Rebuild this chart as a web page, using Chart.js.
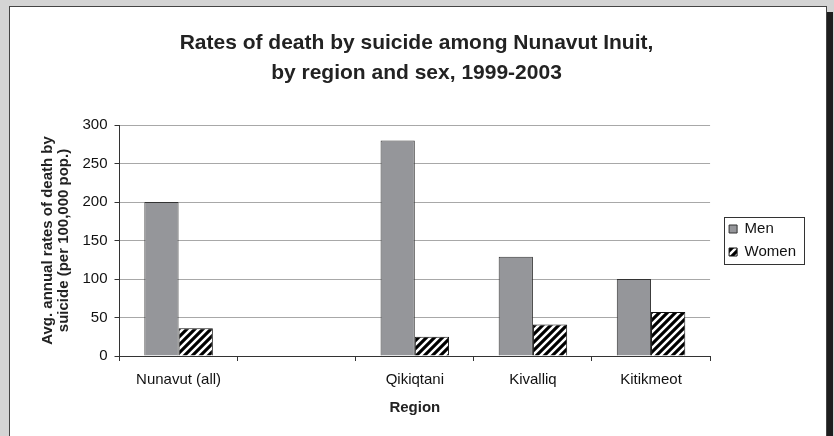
<!DOCTYPE html>
<html>
<head>
<meta charset="utf-8">
<script src="https://cdn.jsdelivr.net/npm/chart.js@4.4.0/dist/chart.umd.min.js"></script>
<style>
    html, body { margin: 0; padding: 0; background: #d4d4d4; width: 834px; height: 436px; overflow: hidden; }
    #panel { position: absolute; left: 9px; top: 6px; width: 816px; height: 500px; background: #fff;
             border: 1px solid #444; box-shadow: 6px 6px 0 #1e1e1e; }
    #wrap { position: absolute; left: 0; top: 0; width: 834px; height: 436px; }
</style>
</head>
<body>
<div id="panel"></div>
<div id="wrap"><canvas id="suicideChart"></canvas></div>
<script>
// chart data
const regions = ['Nunavut (all)', '', 'Qikiqtani', 'Kivalliq', 'Kitikmeot'];
const menRates = [200, null, 280, 129, 100];
const womenRates = [36, null, 25, 41, 57];
const yTicks = [0, 50, 100, 150, 200, 250, 300];

// black / white diagonal hatch for women
function makeHatch() {
    const c = document.createElement('canvas');
    c.width = 8; c.height = 8;
    const g = c.getContext('2d');
    g.fillStyle = '#000';
    g.fillRect(0, 0, 8, 8);
    g.strokeStyle = '#fff';
    g.lineWidth = 2.5;
    g.beginPath();
    g.moveTo(-2, 10); g.lineTo(10, -2);
    g.moveTo(-6, 6); g.lineTo(6, -6);
    g.moveTo(2, 14); g.lineTo(14, 2);
    g.stroke();
    return g.createPattern(c, 'repeat');
}

// draws the box round the legend
const legendBorder = {
    id: 'legendBorder',
    afterDraw(chart) {
        const boxes = chart.legend && chart.legend.legendHitBoxes;
        if (!boxes || !boxes.length) return;
        let l = Infinity, t = Infinity, r = -Infinity, b = -Infinity;
        boxes.forEach(h => {
            l = Math.min(l, h.left); t = Math.min(t, h.top);
            r = Math.max(r, h.left + h.width); b = Math.max(b, h.top + h.height);
        });
        const ctx = chart.ctx;
        ctx.save();
        ctx.strokeStyle = '#333';
        ctx.lineWidth = 1;
        const x0 = Math.round(l - 5) + 0.5, y0 = Math.round(t - 5) + 0.5;
        const x1 = Math.round(r + 8) + 0.5, y1 = Math.round(b + 4) + 0.5;
        ctx.strokeRect(x0, y0, x1 - x0, y1 - y0);
        ctx.restore();
    }
};

const ctx = document.getElementById('suicideChart').getContext('2d');
const font = 'Liberation Sans, Arial, sans-serif';

new Chart(ctx, {
    type: 'bar',
    data: {
        labels: regions,
        datasets: [{
            label: 'Men',
            data: menRates,
            backgroundColor: '#95969a',
            borderColor: '#333',
            borderWidth: 1
        }, {
            label: 'Women',
            data: womenRates,
            backgroundColor: makeHatch(),
            borderColor: '#111',
            borderWidth: 1
        }]
    },
    options: {
        responsive: true,
        maintainAspectRatio: false,
        animation: false,
        categoryPercentage: 0.58,
        barPercentage: 1.0,
        layout: { padding: { left: 27, right: 28, top: 20, bottom: 19 } },
        plugins: {
            title: {
                display: true,
                text: ['Rates of death by suicide among Nunavut Inuit,', 'by region and sex, 1999-2003'],
                color: '#222',
                font: { family: font, size: 21, weight: 'bold', lineHeight: 1.4286 },
                padding: { top: 8, bottom: 37 }
            },
            legend: {
                position: 'right',
                fullSize: false,
                labels: {
                    color: '#111',
                    font: { family: font, size: 15 },
                    boxWidth: 8,
                    boxHeight: 8,
                    padding: 8
                }
            },
            tooltip: { enabled: false }
        },
        scales: {
            x: {
                grid: { offset: true, drawOnChartArea: false, tickLength: 5, tickColor: '#333' },
                border: { color: '#333' },
                ticks: { color: '#111', font: { family: font, size: 15 }, padding: 10 },
                title: { display: true, text: 'Region', color: '#222', font: { family: font, size: 15, weight: 'bold' }, padding: { top: 0, bottom: 0 } }
            },
            y: {
                min: 0,
                max: 300,
                afterBuildTicks: axis => { axis.ticks = yTicks.map(v => ({ value: v })); },
                grid: { color: '#a8a8a8', tickLength: 5, tickColor: '#333' },
                border: { color: '#333' },
                ticks: { color: '#111', font: { family: font, size: 15 }, padding: 7 },
                title: {
                    display: true,
                    text: ['Avg. annual rates of death by', 'suicide (per 100,000 pop.)'],
                    color: '#222',
                    font: { family: font, size: 15, weight: 'bold', lineHeight: 1.05 },
                    padding: { top: 13, bottom: 4 }
                }
            },
            // empty strip between plot and legend
            gap: {
                type: 'linear',
                position: 'right',
                display: true,
                grid: { display: false },
                border: { display: false },
                ticks: { display: false },
                afterFit: axis => { axis.width = 11; }
            }
        }
    },
    plugins: [legendBorder]
});
</script>
</body>
</html>
